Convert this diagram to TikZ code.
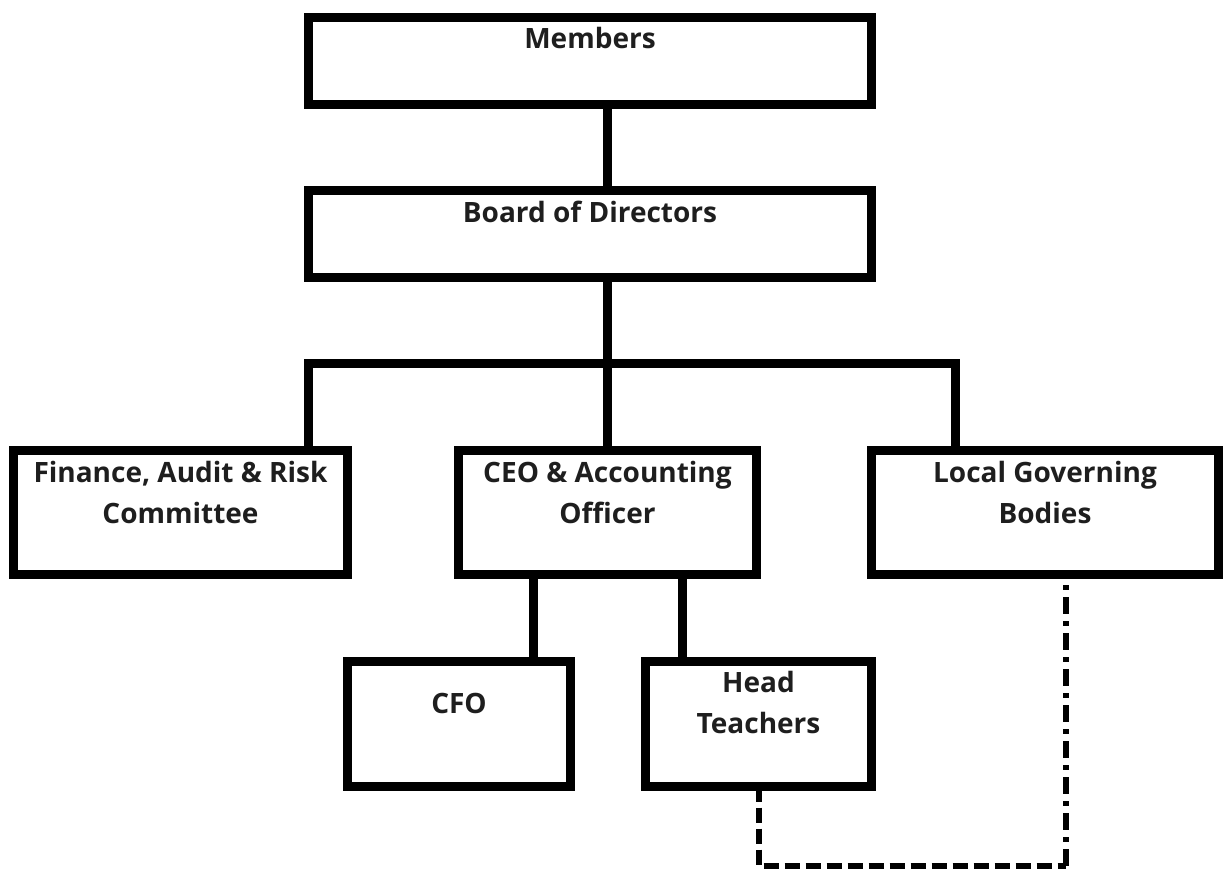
\documentclass[tikz,border=0pt]{standalone}
\usepackage{fontspec}
\setmainfont{Open Sans}
\usepackage{xcolor}
\usetikzlibrary{positioning,calc}

\definecolor{inkgray}{HTML}{1E1E1E}

\begin{document}
\begin{tikzpicture}[
  x=0.5pt, y=-0.5pt,
  box/.style={draw, line width=4.5pt, outer sep=0pt, inner sep=0pt},
  lbl/.style={font=\bfseries\fontsize{14pt}{20.5pt}\selectfont, text=inkgray, align=center, inner sep=0pt},
  link/.style={line width=4.5pt},
  dashlink/.style={line width=3pt, dash pattern=on 7.5pt off 3pt},
  dotlink/.style={line width=3pt, dash pattern=on 8.5pt off 3.5pt on 2.5pt off 3.5pt}
]
\useasboundingbox (0,0) rectangle (1223,869);
% boxes
\node[box, minimum width=281.5pt, minimum height=43.5pt] (members) at (590,61) {};
\node[box, minimum width=281.5pt, minimum height=43.5pt] (board) at (590,234) {};
\node[box, minimum width=167pt, minimum height=62pt] (finance) at (180.5,512.5) {};
\node[box, minimum width=149pt, minimum height=62pt] (ceo) at (607.5,512.5) {};
\node[box, minimum width=173.5pt, minimum height=62pt] (local) at (1045,512.5) {};
\node[box, minimum width=111.5pt, minimum height=62.5pt] (cfo) at (459,724) {};
\node[box, minimum width=113pt, minimum height=62.5pt] (head) at (758.5,724) {};
% texts
\node[lbl, below=4.5pt of members.north] (memberstxt) {Members};
\node[lbl, below=5pt of board.north] (boardtxt) {Board of Directors};
\node[lbl, below=5.25pt of finance.north] (financetxt) {Finance, Audit \& Risk\\Committee};
\node[lbl, below=5.25pt of ceo.north] (ceotxt) {CEO \& Accounting\\Officer};
\node[lbl, below=5.25pt of local.north] (localtxt) {Local Governing\\Bodies};
\node[lbl, below=15.5pt of cfo.north] (cfotxt) {CFO};
\node[lbl, below=4.5pt of head.north] (headtxt) {Head\\Teachers};
% connectors
\coordinate (barL) at (308.5,363.5);
\coordinate (barR) at (955.5,363.5);
\coordinate (ceoL) at ($(ceo.south west)!.25!(ceo.south east)$);
\coordinate (ceoR) at ($(ceo.south west)!.75!(ceo.south east)$);
\coordinate (loopcorner) at (1066,865.5);
\draw[link] (members.south -| ceo.north) -- (board.north -| ceo.north);
\draw[link] (board.south -| ceo.north) -- (ceo.north);
\draw[link] (barL |- finance.north) -- (barL) -- (barR) -- (barR |- local.north);
\draw[link] (ceoL) -- (ceoL |- cfo.north);
\draw[link] (ceoR) -- (ceoR |- head.north);
\draw[dashlink] (head.south) -- (head.south |- loopcorner) -- (loopcorner);
\draw[dotlink] (loopcorner) -- (loopcorner |- local.south);
\end{tikzpicture}
\end{document}
